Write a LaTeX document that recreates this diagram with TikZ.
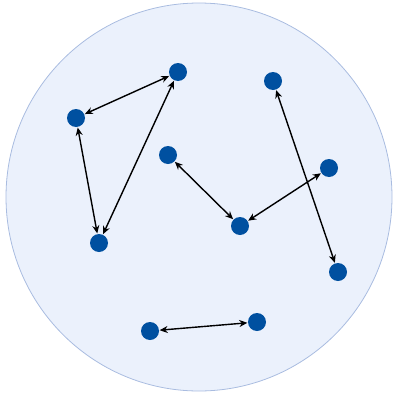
\documentclass[tikz,border=0pt]{standalone}
\usetikzlibrary{arrows.meta}
\definecolor{bgfill}{HTML}{EBF1FC}
\definecolor{bgline}{HTML}{A9BCE0}
\definecolor{dotblue}{HTML}{0050A0}
\begin{document}
\begin{tikzpicture}[x=1pt,y=-1pt,
  dot/.style={circle,fill=dotblue,inner sep=0pt,minimum size=18pt},
  link/.style={{Stealth[length=8pt,width=7pt]}-{Stealth[length=8pt,width=7pt]},line width=1.4pt,black,shorten <=0.5pt,shorten >=0.5pt}]
\useasboundingbox (0,0) rectangle (392,399);
\draw[bgline,fill=bgfill,line width=0.8pt] (199,197) ellipse [x radius=193,y radius=194];
\node[dot] (a) at (178,72) {};
\node[dot] (b) at (76,118) {};
\node[dot] (c) at (99,243) {};
\node[dot] (d) at (168,155) {};
\node[dot] (e) at (240,226) {};
\node[dot] (f) at (273,81) {};
\node[dot] (g) at (329,168) {};
\node[dot] (h) at (338,272) {};
\node[dot] (i) at (150,331) {};
\node[dot] (j) at (257,322) {};
\draw[link] (a) -- (b);
\draw[link] (b) -- (c);
\draw[link] (c) -- (a);
\draw[link] (d) -- (e);
\draw[link] (e) -- (g);
\draw[link] (f) -- (h);
\draw[link] (i) -- (j);
\end{tikzpicture}
\end{document}
